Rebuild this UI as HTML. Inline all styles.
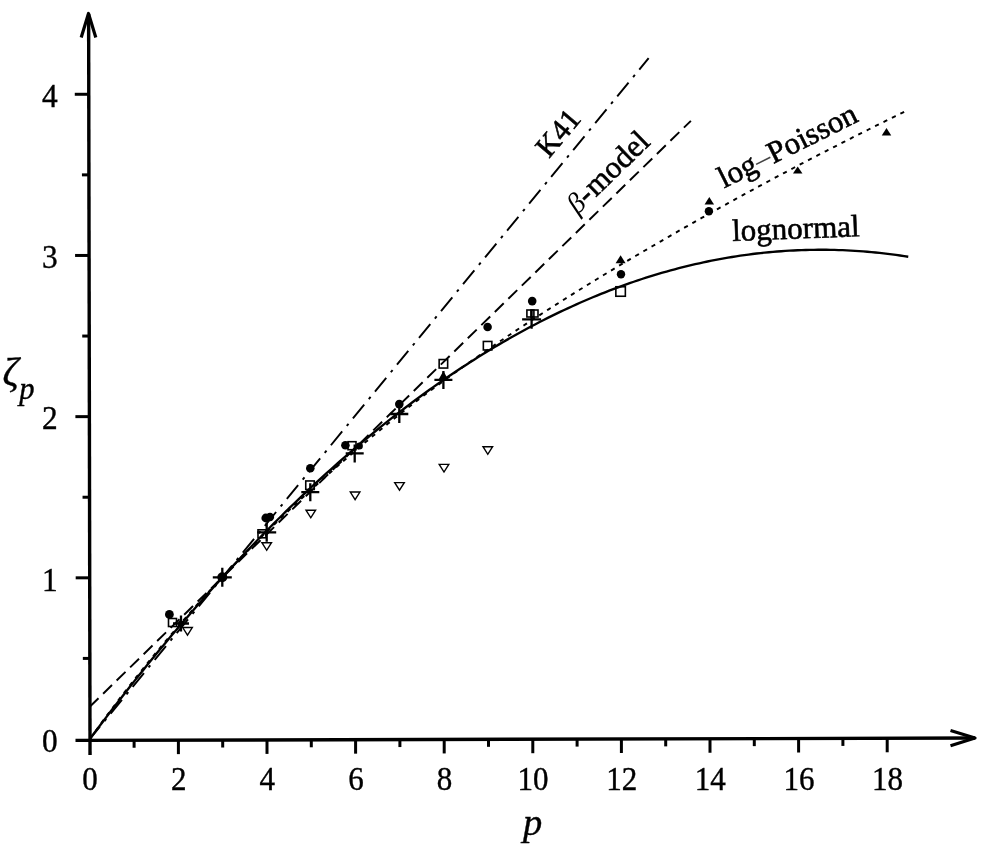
<!DOCTYPE html><html><head><meta charset="utf-8"><style>html,body{margin:0;padding:0;background:#fff;}svg{display:block;}text{font-family:"Liberation Serif","DejaVu Serif",serif;fill:#000;}</style></head><body>
<svg width="990" height="852" viewBox="0 0 990 852">
<rect width="990" height="852" fill="#fff"/>
<g stroke="#000" stroke-width="3.4" fill="none" stroke-linecap="butt">
<line x1="75.5" y1="740.40" x2="975" y2="738.06"/>
<line x1="90.03" y1="755" x2="88.62" y2="14"/>
<polyline points="81.2,37.5 88.5,13.5 95.8,37.5" stroke-linejoin="round" stroke-width="3.2"/>
<polyline points="950.5,730.5 975,738 950.5,745.8" stroke-linejoin="round" stroke-width="3.2"/>
<line x1="134.10" y1="740.25" x2="134.10" y2="747.75" stroke-width="3"/>
<line x1="178.40" y1="740.13" x2="178.40" y2="754.13" stroke-width="3"/>
<line x1="222.70" y1="740.02" x2="222.70" y2="747.52" stroke-width="3"/>
<line x1="267.00" y1="739.90" x2="267.00" y2="753.90" stroke-width="3"/>
<line x1="311.30" y1="739.79" x2="311.30" y2="747.29" stroke-width="3"/>
<line x1="355.60" y1="739.67" x2="355.60" y2="753.67" stroke-width="3"/>
<line x1="399.90" y1="739.56" x2="399.90" y2="747.06" stroke-width="3"/>
<line x1="444.20" y1="739.44" x2="444.20" y2="753.44" stroke-width="3"/>
<line x1="488.50" y1="739.33" x2="488.50" y2="746.83" stroke-width="3"/>
<line x1="532.80" y1="739.21" x2="532.80" y2="753.21" stroke-width="3"/>
<line x1="577.10" y1="739.10" x2="577.10" y2="746.60" stroke-width="3"/>
<line x1="621.40" y1="738.98" x2="621.40" y2="752.98" stroke-width="3"/>
<line x1="665.70" y1="738.87" x2="665.70" y2="746.37" stroke-width="3"/>
<line x1="710.00" y1="738.75" x2="710.00" y2="752.75" stroke-width="3"/>
<line x1="754.30" y1="738.64" x2="754.30" y2="746.14" stroke-width="3"/>
<line x1="798.60" y1="738.52" x2="798.60" y2="752.52" stroke-width="3"/>
<line x1="842.90" y1="738.41" x2="842.90" y2="745.91" stroke-width="3"/>
<line x1="887.20" y1="738.29" x2="887.20" y2="752.29" stroke-width="3"/>
<line x1="89.84" y1="658.41" x2="82.84" y2="658.41" stroke-width="3"/>
<line x1="89.69" y1="577.82" x2="75.69" y2="577.82" stroke-width="3"/>
<line x1="89.54" y1="497.23" x2="82.54" y2="497.23" stroke-width="3"/>
<line x1="89.39" y1="416.64" x2="75.39" y2="416.64" stroke-width="3"/>
<line x1="89.23" y1="336.05" x2="82.23" y2="336.05" stroke-width="3"/>
<line x1="89.08" y1="255.46" x2="75.08" y2="255.46" stroke-width="3"/>
<line x1="88.93" y1="174.87" x2="81.93" y2="174.87" stroke-width="3"/>
<line x1="88.77" y1="94.28" x2="74.77" y2="94.28" stroke-width="3"/>
</g>
<g transform="rotate(-0.13 89.8 739.0)">
<g fill="none" stroke="#000" stroke-width="2.3">
<polyline points="89.80,739.00 370.00,399.18 650.19,59.36" stroke-dasharray="17.8 7.2 2.8 6.92" stroke-dashoffset="1.9" stroke-width="1.95"/>
<polyline points="89.80,706.76 391.04,414.49 692.28,122.22" stroke-dasharray="12.4 6.461" stroke-dashoffset="0.16" stroke-width="1.95"/>
<polyline points="89.80,739.00 91.84,736.17 93.89,733.34 95.93,730.54 97.97,727.74 100.02,724.95 102.06,722.18 104.10,719.42 106.15,716.67 108.19,713.94 110.23,711.21 112.28,708.50 114.32,705.80 116.36,703.11 118.41,700.43 120.45,697.76 122.49,695.11 124.54,692.46 126.58,689.83 128.62,687.21 130.67,684.60 132.71,682.00 134.75,679.41 136.80,676.83 138.84,674.27 140.88,671.71 142.93,669.17 144.97,666.63 147.01,664.11 149.06,661.60 151.10,659.09 153.14,656.60 155.19,654.12 157.23,651.65 159.27,649.19 161.32,646.74 163.36,644.29 165.40,641.86 167.45,639.44 169.49,637.03 171.53,634.63 173.58,632.24 175.62,629.85 177.66,627.48 179.71,625.12 181.75,622.77 183.79,620.42 185.84,618.09 187.88,615.76 189.92,613.45 191.97,611.14 194.01,608.84 196.05,606.55 198.10,604.27 200.14,602.00 202.18,599.74 204.23,597.49 206.27,595.25 208.31,593.01 210.36,590.78 212.40,588.57 214.44,586.36 216.49,584.16 218.53,581.97 220.57,579.78 222.62,577.61 224.66,575.44 226.70,573.28 228.75,571.13 230.79,568.99 232.83,566.86 234.88,564.73 236.92,562.61 238.96,560.51 241.01,558.40 243.05,556.31 245.09,554.22 247.14,552.15 249.18,550.08 251.22,548.01 253.27,545.96 255.31,543.91 257.35,541.87 259.40,539.84 261.44,537.81 263.48,535.80 265.53,533.79 267.57,531.78 269.61,529.79 271.66,527.80 273.70,525.82 275.74,523.85 277.79,521.88 279.83,519.92 281.87,517.97 283.92,516.02 285.96,514.08 288.00,512.15 290.05,510.23 292.09,508.31 294.13,506.40 296.18,504.49 298.22,502.59 300.26,500.70 302.31,498.82 304.35,496.94 306.39,495.07 308.44,493.20 310.48,491.34 312.52,489.49 314.57,487.63 316.61,485.78 318.65,483.94 320.70,482.11 322.74,480.28 324.78,478.45 326.83,476.64 328.87,474.83 330.91,473.02 332.96,471.22 335.00,469.43 337.04,467.64 339.09,465.86 341.13,464.09 343.17,462.32 345.22,460.55 347.26,458.79 349.30,457.04 351.35,455.29 353.39,453.55 355.43,451.82 357.48,450.09 359.52,448.36 361.56,446.65 363.61,444.93 365.65,443.22 367.69,441.52 369.74,439.83 371.78,438.13 373.82,436.45 375.87,434.77 377.91,433.09 379.95,431.42 382.00,429.75 384.04,428.09 386.08,426.44 388.13,424.79 390.17,423.14 392.21,421.50 394.26,419.87 396.30,418.24 398.34,416.61 400.39,414.99 402.43,413.37 404.47,411.76 406.52,410.16 408.56,408.56 410.60,406.96 412.65,405.37 414.69,403.78 416.73,402.20 418.78,400.62 420.82,399.05 422.86,397.50 424.91,395.97 426.95,394.45 428.99,392.94 431.04,391.43 433.08,389.92 435.12,388.42 437.17,386.92 439.21,385.43 441.25,383.94 443.30,382.46 445.34,380.98 447.38,379.50 449.43,378.03 451.47,376.57 453.51,375.10 455.56,373.64 457.60,372.19 459.64,370.74 461.69,369.29 463.73,367.85 465.77,366.41 467.82,364.98 469.86,363.55 471.90,362.12 473.95,360.70 475.99,359.28 478.03,357.86 480.08,356.45 482.12,355.04 484.16,353.64 486.21,352.24 488.25,350.84 490.29,349.45 492.34,348.05 494.38,346.66 496.42,345.27 498.47,343.88 500.51,342.50 502.55,341.12 504.60,339.75 506.64,338.38 508.68,337.01 510.73,335.65 512.77,334.29 514.81,332.93 516.86,331.58 518.90,330.23 520.94,328.88 522.99,327.54 525.03,326.20 527.07,324.86 529.12,323.53 531.16,322.20 533.20,320.87 535.25,319.55 537.29,318.23 539.33,316.91 541.38,315.60 543.42,314.29 545.46,312.98 547.51,311.68 549.55,310.37 551.59,309.08 553.64,307.78 555.68,306.49 557.72,305.20 559.77,303.91 561.81,302.63 563.85,301.35 565.90,300.07 567.94,298.80 569.98,297.52 572.03,296.24 574.07,294.96 576.11,293.69 578.16,292.42 580.20,291.15 582.24,289.89 584.29,288.63 586.33,287.37 588.37,286.11 590.42,284.86 592.46,283.61 594.50,282.36 596.55,281.12 598.59,279.87 600.63,278.64 602.68,277.40 604.72,276.16 606.76,274.93 608.81,273.70 610.85,272.48 612.89,271.25 614.94,270.03 616.98,268.81 619.02,267.59 621.07,266.38 623.11,265.17 625.15,263.96 627.20,262.75 629.24,261.55 631.28,260.35 633.33,259.15 635.37,257.95 637.41,256.75 639.46,255.56 641.50,254.37 643.54,253.18 645.59,252.00 647.63,250.82 649.67,249.63 651.72,248.46 653.76,247.28 655.80,246.11 657.85,244.93 659.89,243.76 661.93,242.60 663.98,241.43 666.02,240.26 668.06,239.08 670.11,237.91 672.15,236.73 674.19,235.56 676.24,234.38 678.28,233.21 680.32,232.05 682.37,230.88 684.41,229.72 686.45,228.55 688.50,227.39 690.54,226.24 692.58,225.08 694.63,223.93 696.67,222.77 698.71,221.62 700.76,220.48 702.80,219.33 704.84,218.19 706.89,217.05 708.93,215.91 710.97,214.77 713.02,213.63 715.06,212.50 717.10,211.36 719.15,210.23 721.19,209.10 723.23,207.98 725.28,206.85 727.32,205.73 729.36,204.61 731.41,203.49 733.45,202.37 735.49,201.25 737.54,200.14 739.58,199.02 741.62,197.91 743.67,196.80 745.71,195.70 747.75,194.59 749.80,193.48 751.84,192.38 753.88,191.28 755.93,190.18 757.97,189.08 760.01,187.99 762.06,186.89 764.10,185.80 766.14,184.71 768.19,183.62 770.23,182.53 772.27,181.44 774.32,180.36 776.36,179.28 778.40,178.19 780.45,177.11 782.49,176.03 784.53,174.96 786.58,173.88 788.62,172.81 790.66,171.73 792.71,170.66 794.75,169.59 796.79,168.52 798.84,167.46 800.88,166.39 802.92,165.33 804.97,164.27 807.01,163.21 809.05,162.15 811.10,161.10 813.14,160.04 815.18,158.99 817.23,157.94 819.27,156.88 821.31,155.83 823.36,154.79 825.40,153.74 827.44,152.69 829.49,151.65 831.53,150.61 833.57,149.56 835.62,148.52 837.66,147.48 839.70,146.45 841.75,145.41 843.79,144.37 845.83,143.34 847.88,142.31 849.92,141.27 851.96,140.24 854.01,139.21 856.05,138.19 858.09,137.16 860.14,136.13 862.18,135.11 864.22,134.09 866.27,133.06 868.31,132.04 870.35,131.02 872.40,130.01 874.44,128.99 876.48,127.97 878.53,126.96 880.57,125.94 882.61,124.93 884.66,123.92 886.70,122.91 888.74,121.90 890.79,120.89 892.83,119.88 894.87,118.88 896.92,117.87 898.96,116.87 901.00,115.86 903.05,114.86 905.09,113.86 907.13,112.86" stroke-dasharray="4.2 5.206" stroke-dashoffset="8.746" stroke-width="1.95"/>
<polyline points="89.80,739.00 93.90,733.55 98.00,728.13 102.09,722.74 106.19,717.38 110.29,712.05 114.39,706.75 118.48,701.48 122.58,696.25 126.68,691.04 130.78,685.87 134.88,680.72 138.97,675.61 143.07,670.52 147.17,665.47 151.27,660.45 155.36,655.46 159.46,650.49 163.56,645.56 167.66,640.66 171.75,635.80 175.85,630.96 179.95,626.15 184.05,621.37 188.15,616.63 192.24,611.91 196.34,607.22 200.44,602.57 204.54,597.95 208.63,593.35 212.73,588.79 216.83,584.26 220.93,579.76 225.03,575.29 229.12,570.85 233.22,566.44 237.32,562.06 241.42,557.71 245.51,553.39 249.61,549.11 253.71,544.85 257.81,540.62 261.91,536.43 266.00,532.27 270.10,528.13 274.20,524.03 278.30,519.96 282.39,515.91 286.49,511.90 290.59,507.92 294.69,503.97 298.79,500.05 302.88,496.17 306.98,492.31 311.08,488.48 315.18,484.69 319.27,480.92 323.37,477.18 327.47,473.48 331.57,469.81 335.66,466.16 339.76,462.55 343.86,458.97 347.96,455.42 352.06,451.90 356.15,448.41 360.25,444.95 364.35,441.52 368.45,438.12 372.54,434.75 376.64,431.42 380.74,428.11 384.84,424.83 388.94,421.59 393.03,418.38 397.13,415.19 401.23,412.04 405.33,408.92 409.42,405.83 413.52,402.76 417.62,399.73 421.72,396.73 425.82,393.77 429.91,390.83 434.01,387.92 438.11,385.04 442.21,382.20 446.30,379.38 450.40,376.60 454.50,373.84 458.60,371.12 462.70,368.42 466.79,365.76 470.89,363.13 474.99,360.53 479.09,357.96 483.18,355.42 487.28,352.91 491.38,350.43 495.48,347.98 499.57,345.56 503.67,343.18 507.77,340.82 511.87,338.50 515.97,336.20 520.06,333.94 524.16,331.70 528.26,329.50 532.36,327.33 536.45,325.19 540.55,323.08 544.65,321.00 548.75,318.95 552.85,316.93 556.94,314.94 561.04,312.98 565.14,311.05 569.24,309.16 573.33,307.29 577.43,305.46 581.53,303.65 585.63,301.88 589.73,300.14 593.82,298.42 597.92,296.74 602.02,295.09 606.12,293.47 610.21,291.88 614.31,290.32 618.41,288.79 622.51,287.29 626.61,285.83 630.70,284.39 634.80,282.98 638.90,281.61 643.00,280.26 647.09,278.95 651.19,277.67 655.29,276.41 659.39,275.19 663.48,274.00 667.58,272.84 671.68,271.71 675.78,270.61 679.88,269.54 683.97,268.50 688.07,267.49 692.17,266.52 696.27,265.57 700.36,264.66 704.46,263.77 708.56,262.92 712.66,262.09 716.76,261.30 720.85,260.54 724.95,259.81 729.05,259.10 733.15,258.43 737.24,257.79 741.34,257.18 745.44,256.61 749.54,256.06 753.64,255.54 757.73,255.05 761.83,254.60 765.93,254.17 770.03,253.78 774.12,253.41 778.22,253.08 782.32,252.78 786.42,252.51 790.52,252.26 794.61,252.05 798.71,251.87 802.81,251.72 806.91,251.61 811.00,251.52 815.10,251.46 819.20,251.43 823.30,251.44 827.39,251.47 831.49,251.54 835.59,251.63 839.69,251.76 843.79,251.91 847.88,252.10 851.98,252.32 856.08,252.57 860.18,252.85 864.27,253.16 868.37,253.50 872.47,253.87 876.57,254.27 880.67,254.71 884.76,255.17 888.86,255.66 892.96,256.19 897.06,256.74 901.15,257.33 905.25,257.95 909.35,258.59" stroke-width="2.35"/>
</g>
</g>
<g><polygon points="182.70,627.50 192.30,627.50 187.5,635.10" fill="#fff" stroke="#000" stroke-width="1.4"/><rect x="168.50" y="618.50" width="8" height="8" fill="none" stroke="#000" stroke-width="1.6"/><circle cx="169.4" cy="614.4" r="4.4" fill="#000"/><circle cx="181" cy="623.5" r="3" fill="#000"/><path d="M173.00,623.5H189.00M181,615.50V631.50" stroke="#000" stroke-width="2.3" fill="none"/><circle cx="222.3" cy="577.3" r="5" fill="#000"/><path d="M212.80,577.3H231.80M222.3,567.80V586.80" stroke="#000" stroke-width="2.3" fill="none"/><polygon points="261.90,542.70 271.50,542.70 266.7,550.30" fill="#fff" stroke="#000" stroke-width="1.4"/><rect x="258.00" y="529.80" width="8" height="8" fill="none" stroke="#000" stroke-width="1.6"/><circle cx="265.8" cy="518" r="4.4" fill="#000"/><circle cx="270" cy="517" r="4.2" fill="#000"/><path d="M257.20,532.3H276.20M266.7,522.80V541.80" stroke="#000" stroke-width="2.3" fill="none"/><polygon points="306.00,510.20 315.60,510.20 310.8,517.80" fill="#fff" stroke="#000" stroke-width="1.4"/><rect x="305.75" y="480.95" width="8.5" height="8.5" fill="none" stroke="#000" stroke-width="1.6"/><circle cx="310.3" cy="468.2" r="4.3" fill="#000"/><path d="M301.30,492.2H319.30M310.3,483.20V501.20" stroke="#000" stroke-width="2.3" fill="none"/><polygon points="350.30,492.00 359.90,492.00 355.1,499.60" fill="#fff" stroke="#000" stroke-width="1.4"/><rect x="348.00" y="441.70" width="8" height="8" fill="none" stroke="#000" stroke-width="1.6"/><circle cx="345.4" cy="445.2" r="4.3" fill="#000"/><circle cx="359.4" cy="446" r="3.5" fill="#000"/><path d="M345.70,453.4H363.70M354.7,444.40V462.40" stroke="#000" stroke-width="2.3" fill="none"/><polygon points="394.70,482.60 404.30,482.60 399.5,490.20" fill="#fff" stroke="#000" stroke-width="1.4"/><circle cx="399.3" cy="404.1" r="4.3" fill="#000"/><path d="M390.30,414H408.30M399.3,405.00V423.00" stroke="#000" stroke-width="2.3" fill="none"/><polygon points="439.20,464.40 448.80,464.40 444,472.00" fill="#fff" stroke="#000" stroke-width="1.4"/><rect x="439.15" y="359.55" width="8.5" height="8.5" fill="none" stroke="#000" stroke-width="1.6"/><polygon points="438.90,379.00 447.90,379.00 443.4,371.00" fill="#000" stroke="none"/><path d="M434.40,379.9H452.40M443.4,370.90V388.90" stroke="#000" stroke-width="2.3" fill="none"/><polygon points="483.00,446.70 492.60,446.70 487.8,454.30" fill="#fff" stroke="#000" stroke-width="1.4"/><circle cx="487.6" cy="327" r="4.3" fill="#000"/><rect x="483.35" y="341.45" width="8.5" height="8.5" fill="none" stroke="#000" stroke-width="1.6"/><circle cx="532.2" cy="301.1" r="4.3" fill="#000"/><rect x="526.90" y="310.00" width="7" height="7" fill="none" stroke="#000" stroke-width="1.6"/><rect x="531.00" y="310.00" width="7" height="7" fill="none" stroke="#000" stroke-width="1.6"/><path d="M522.10,319.3H541.10M531.6,309.80V328.80" stroke="#000" stroke-width="2.3" fill="none"/><polygon points="615.60,263.30 625.60,263.30 620.6,255.30" fill="#000" stroke="none"/><circle cx="621" cy="274.3" r="4.2" fill="#000"/><rect x="615.85" y="286.75" width="9.5" height="9.5" fill="none" stroke="#000" stroke-width="1.6"/><polygon points="704.55,204.45 714.05,204.45 709.3,196.95" fill="#000" stroke="none"/><circle cx="708.9" cy="211.2" r="4.2" fill="#000"/><polygon points="792.95,173.50 802.45,173.50 797.7,166.50" fill="#000" stroke="none"/><polygon points="881.75,135.55 891.25,135.55 886.5,128.05" fill="#000" stroke="none"/></g>
<g stroke="#000" stroke-width="0.4">
<text transform="translate(90.1,790.3) scale(0.94,1)" font-size="33" text-anchor="middle">0</text>
<text transform="translate(178.7,790.3) scale(0.94,1)" font-size="33" text-anchor="middle">2</text>
<text transform="translate(267.3,790.3) scale(0.94,1)" font-size="33" text-anchor="middle">4</text>
<text transform="translate(355.9,790.3) scale(0.94,1)" font-size="33" text-anchor="middle">6</text>
<text transform="translate(444.5,790.3) scale(0.94,1)" font-size="33" text-anchor="middle">8</text>
<text transform="translate(533.1,790.3) scale(0.94,1)" font-size="33" text-anchor="middle">10</text>
<text transform="translate(621.7,790.3) scale(0.94,1)" font-size="33" text-anchor="middle">12</text>
<text transform="translate(710.3,790.3) scale(0.94,1)" font-size="33" text-anchor="middle">14</text>
<text transform="translate(798.9,790.3) scale(0.94,1)" font-size="33" text-anchor="middle">16</text>
<text transform="translate(887.5,790.3) scale(0.94,1)" font-size="33" text-anchor="middle">18</text>
<text transform="translate(57.8,751.8) scale(0.95,1)" font-size="33" text-anchor="end">0</text>
<text transform="translate(57.8,590.6) scale(0.95,1)" font-size="33" text-anchor="end">1</text>
<text transform="translate(57.8,429.4) scale(0.95,1)" font-size="33" text-anchor="end">2</text>
<text transform="translate(57.8,268.3) scale(0.95,1)" font-size="33" text-anchor="end">3</text>
<text transform="translate(57.8,107.1) scale(0.95,1)" font-size="33" text-anchor="end">4</text>
</g>
<g stroke="#000" stroke-width="0.4">
<text x="2.5" y="385" font-size="40" font-style="italic">ζ</text>
<text x="19.3" y="399.3" font-size="30.5" font-style="italic">p</text>
<text x="523" y="834.7" font-size="38.5" font-style="italic">p</text>
</g>
<g stroke="#000" stroke-width="0.6">
<text transform="translate(549,159) rotate(-50)" font-size="30">K41</text>
<text transform="translate(577.5,215) rotate(-44)" font-size="31"><tspan font-style="italic" stroke-width="0" font-size="28.5">β</tspan>-<tspan dx="0.8">model</tspan></text>
<text transform="translate(724,188.5) rotate(-26.5)" font-size="31">log<tspan stroke-width="0" fill="#444">–</tspan>Poisson</text>
<text transform="translate(732.5,241) rotate(-2.2)" font-size="31">lognormal</text>
</g>
</svg></body></html>
